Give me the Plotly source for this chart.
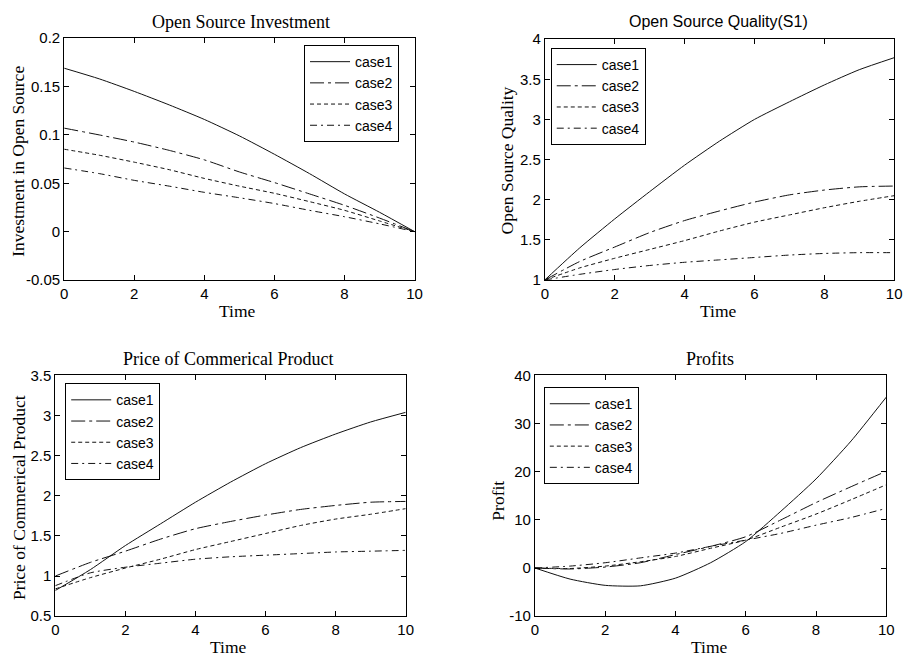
import plotly.graph_objects as go

# ---- data -------------------------------------------------------------
time = [0, 1, 2, 3, 4, 5, 6, 7, 8, 9, 10]
cases = ["case1", "case2", "case3", "case4"]

investment = {
    "case1": [0.169, 0.158, 0.145, 0.131, 0.116, 0.099, 0.080, 0.060, 0.039, 0.020, 0.0],
    "case2": [0.107, 0.100, 0.0926, 0.084, 0.0742, 0.0617, 0.0507, 0.039, 0.0272, 0.014, 0.0],
    "case3": [0.0852, 0.079, 0.0718, 0.064, 0.055, 0.047, 0.0396, 0.031, 0.022, 0.011, 0.0],
    "case4": [0.0658, 0.060, 0.053, 0.047, 0.0406, 0.035, 0.029, 0.022, 0.0154, 0.008, 0.0],
}
quality = {
    "case1": [1.0, 1.40, 1.76, 2.10, 2.43, 2.73, 3.00, 3.22, 3.43, 3.62, 3.77],
    "case2": [1.0, 1.23, 1.41, 1.59, 1.74, 1.86, 1.97, 2.06, 2.12, 2.16, 2.17],
    "case3": [1.0, 1.15, 1.27, 1.38, 1.49, 1.61, 1.72, 1.81, 1.90, 1.98, 2.05],
    "case4": [1.0, 1.07, 1.13, 1.18, 1.22, 1.25, 1.28, 1.31, 1.33, 1.34, 1.34],
}
price = {
    "case1": [0.82, 1.08, 1.38, 1.65, 1.92, 2.17, 2.40, 2.60, 2.77, 2.92, 3.04],
    "case2": [1.00, 1.17, 1.31, 1.46, 1.59, 1.68, 1.76, 1.83, 1.88, 1.92, 1.93],
    "case3": [0.84, 0.98, 1.10, 1.21, 1.33, 1.43, 1.53, 1.63, 1.71, 1.77, 1.84],
    "case4": [0.88, 1.04, 1.11, 1.16, 1.21, 1.24, 1.26, 1.28, 1.30, 1.31, 1.32],
}
profit = {
    "case1": [0.0, -2.3, -3.6, -3.7, -2.1, 1.1, 5.5, 11.8, 18.5, 26.4, 35.5],
    "case2": [0.0, -0.2, 0.2, 1.1, 2.8, 4.5, 6.5, 10.0, 13.6, 16.9, 20.1],
    "case3": [0.0, -0.1, 0.4, 1.3, 2.4, 4.1, 5.8, 8.5, 11.2, 14.2, 17.3],
    "case4": [0.0, 0.4, 1.1, 2.1, 3.1, 4.5, 5.8, 7.2, 8.9, 10.5, 12.4],
}

x_ticks = [0, 2, 4, 6, 8, 10]
x_ticktext = ["0", "2", "4", "6", "8", "10"]
inv_ticks = [-0.05, 0, 0.05, 0.1, 0.15, 0.2]
inv_ticktext = ["-0.05", "0", "0.05", "0.1", "0.15", "0.2"]
qual_ticks = [1, 1.5, 2, 2.5, 3, 3.5, 4]
qual_ticktext = ["1", "1.5", "2", "2.5", "3", "3.5", "4"]
price_ticks = [0.5, 1, 1.5, 2, 2.5, 3, 3.5]
price_ticktext = ["0.5", "1", "1.5", "2", "2.5", "3", "3.5"]
profit_ticks = [-10, 0, 10, 20, 30, 40]
profit_ticktext = ["-10", "0", "10", "20", "30", "40"]

# ---- styling ----------------------------------------------------------
W, H = 917, 669
SANS = "Liberation Sans, Arial, sans-serif"
SERIF = "Liberation Serif, Times New Roman, serif"
dashes = {
    "case1": "solid",
    "case2": "14px,4px,3px,4px",
    "case3": "4px,3px",
    "case4": "7px,4px,2px,4px",
}


def px_x(p):
    """Pixel column -> paper fraction."""
    return p / W


def px_y(p):
    """Pixel row (from top) -> paper fraction."""
    return 1 - p / H


panels = [
    # data, axis suffix, legend id, x pixel range, y pixel range, y range, ticks
    (investment, "", "legend", (61, 416), (30, 278), [-0.05, 0.2], inv_ticks, inv_ticktext),
    (quality, "2", "legend2", (548, 902), (31, 278), [1, 4], qual_ticks, qual_ticktext),
    (price, "3", "legend3", (52, 407), (376, 623), [0.5, 3.5], price_ticks, price_ticktext),
    (profit, "4", "legend4", (538, 894), (376, 623), [-10, 40], profit_ticks, profit_ticktext),
]

fig = go.Figure()
layout = {}
for data, sfx, leg, (x0, x1), (y0, y1), yr, yt, ytt in panels:
    for c in cases:
        fig.add_trace(go.Scatter(
            x=time, y=data[c], name=c, mode="lines",
            line=dict(color="#111111", width=1, dash=dashes[c], shape="spline", smoothing=0.6),
            xaxis="x" + sfx, yaxis="y" + sfx, legend=leg,
        ))
    axis_common = dict(
        showline=True, linecolor="black", linewidth=1, mirror="ticks",
        ticks="inside", ticklen=5, tickcolor="black", tickwidth=1,
        showgrid=False, zeroline=False,
        tickfont=dict(family=SANS, size=15, color="black"),
    )
    layout["xaxis" + sfx] = dict(
        axis_common, domain=[px_x(x0), px_x(x1)], range=[0, 10],
        tickvals=x_ticks, ticktext=x_ticktext, anchor="y" + sfx,
    )
    layout["yaxis" + sfx] = dict(
        axis_common, domain=[px_y(y1), px_y(y0)], range=yr,
        tickvals=yt, ticktext=ytt, anchor="x" + sfx,
    )

legend_pos = {
    "legend": (304, 37),
    "legend2": (554, 40),
    "legend3": (62, 384),
    "legend4": (547, 388),
}
for leg, (lx, ly) in legend_pos.items():
    layout[leg] = dict(
        x=px_x(lx), y=px_y(ly), xanchor="left", yanchor="top",
        bordercolor="black", borderwidth=1, bgcolor="white",
        font=dict(family=SANS, size=14, color="black"),
        tracegroupgap=0, itemwidth=40,
    )

annotations = []
# panel titles
titles = [
    ("Open Source Investment", 240, 13, SERIF, 18),
    ("Open Source Quality(S1)", 724, 13, SANS, 16),
    ("Price of Commerical Product", 227, 359, SERIF, 18),
    ("Profits", 715, 359, SERIF, 18),
]
for text, cx, cy, fam, size in titles:
    annotations.append(dict(
        text=text, x=px_x(cx), y=px_y(cy), xref="paper", yref="paper",
        xanchor="center", yanchor="middle", showarrow=False,
        font=dict(family=fam, size=size, color="black"),
    ))
# x-axis titles
for cx, cy in [(237, 310), (724, 310), (227, 655), (715, 655)]:
    annotations.append(dict(
        text="Time", x=px_x(cx), y=px_y(cy), xref="paper", yref="paper",
        xanchor="center", yanchor="middle", showarrow=False,
        font=dict(family=SERIF, size=17.5, color="black"),
    ))
# y-axis titles
ytitles = [
    ("Investment in Open Source", 14, 156),
    ("Open Source Quality", 510, 155),
    ("Price of Commerical Product", 15, 501),
    ("Profit", 501, 504),
]
for text, cx, cy in ytitles:
    annotations.append(dict(
        text=text, x=px_x(cx), y=px_y(cy), xref="paper", yref="paper",
        xanchor="center", yanchor="middle", showarrow=False, textangle=-90,
        font=dict(family=SERIF, size=17.5, color="black"),
    ))

fig.update_layout(
    width=W, height=H,
    margin=dict(l=0, r=0, t=0, b=0),
    paper_bgcolor="white", plot_bgcolor="white",
    annotations=annotations,
    **layout,
)

fig.write_html("out.html")
